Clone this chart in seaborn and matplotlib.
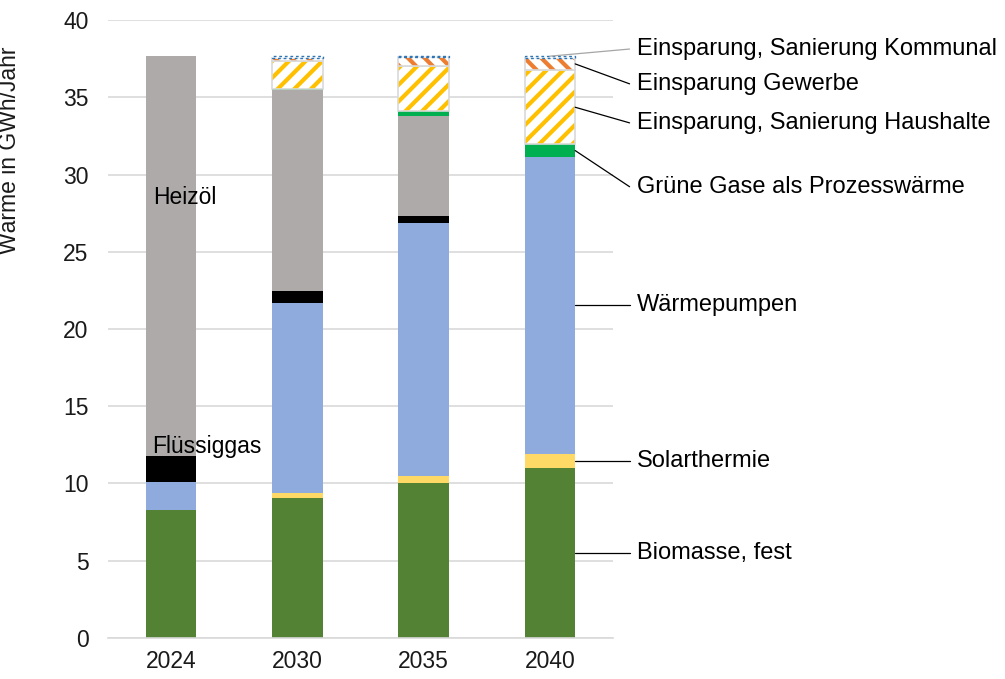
import numpy as np
import pandas as pd
import matplotlib
matplotlib.use("Agg")
import matplotlib.pyplot as plt
import seaborn as sns

# Daten (GWh/Jahr)
jahre = ["2024", "2030", "2035", "2040"]
biomasse = [8.3, 9.06, 10.03, 11.0]
solarthermie = [0.0, 0.31, 0.46, 0.92]
waermepumpen = [1.8, 12.31, 16.35, 19.22]
fluessiggas = [1.66, 0.78, 0.47, 0.0]
heizoel = [25.91, 13.0, 6.48, 0.0]
gruene_gase = [0.0, 0.1, 0.3, 0.82]
spar_haushalte = [0.0, 1.8, 2.95, 4.79]
spar_gewerbe = [0.0, 0.18, 0.56, 0.82]
spar_kommunal = [0.0, 0.12, 0.07, 0.09]

sns.set_theme(style="white")
plt.rcParams["font.family"] = ["Liberation Sans", "DejaVu Sans"]
plt.rcParams["hatch.linewidth"] = 3.0

fig = plt.figure(figsize=(10.05, 6.79), dpi=100)
ax = fig.add_axes([0.1075, 0.0604, 0.5025, 0.9101])

# Reihenfolge von unten nach oben
schichten = [
    ("Biomasse, fest", biomasse, "#548235", None, None),
    ("Solarthermie", solarthermie, "#FFD966", None, None),
    ("Wärmepumpen", waermepumpen, "#8FAADC", None, None),
    ("Flüssiggas", fluessiggas, "#000000", None, None),
    ("Heizöl", heizoel, "#AEAAAA", None, None),
    ("Grüne Gase als Prozesswärme", gruene_gase, "#00B050", None, None),
    ("Einsparung, Sanierung Haushalte", spar_haushalte, "white", "//", "#FFC000"),
    ("Einsparung Gewerbe", spar_gewerbe, "white", "\\\\", "#ED7D31"),
    ("Einsparung, Sanierung Kommunal", spar_kommunal, "white", None, None),
]

breite = 0.4
bottom = np.zeros(len(jahre))
mitten = {}
for name, werte, farbe, hatch, hfarbe in schichten:
    werte = np.array(werte)
    df = pd.DataFrame({"jahr": jahre, "wert": werte})
    pos = np.arange(len(jahre))
    da = werte > 0
    if hatch:
        sns.barplot(data=df, x="jahr", y="wert", order=jahre, ax=ax, width=breite,
                    color="white", bottom=bottom, hatch=hatch, edgecolor=hfarbe,
                    linewidth=0, saturation=1, errorbar=None)
        # helle Umrandung
        ax.bar(pos[da], werte[da], width=breite, bottom=bottom[da],
               facecolor="none", edgecolor="#D9D9D9", linewidth=1.2)
    elif hfarbe is None and farbe == "white":
        ax.bar(pos[da], werte[da], width=breite, bottom=bottom[da],
               facecolor="white", edgecolor="#2E75B6", linewidth=1.0,
               linestyle=(0, (2, 2)))
    else:
        sns.barplot(data=df, x="jahr", y="wert", order=jahre, ax=ax, width=breite,
                    color=farbe, bottom=bottom, linewidth=0,
                    saturation=1, errorbar=None)
    mitten[name] = bottom[-1] + werte[-1] / 2
    bottom = bottom + werte

gesamt = bottom

ax.set_ylim(0, 40)
ax.set_xlim(-0.5, 3.5)
ax.set_yticks(range(0, 41, 5))
ax.yaxis.grid(True, color="#D9D9D9", linewidth=1.2)
ax.set_axisbelow(True)
for s in ["left", "right", "top"]:
    ax.spines[s].set_visible(False)
ax.spines["bottom"].set_color("#D9D9D9")
ax.spines["bottom"].set_linewidth(1.2)
ax.tick_params(axis="both", length=0, labelsize=16.5, colors="#1a1a1a")
ax.tick_params(axis="y", pad=14)
ax.tick_params(axis="x", pad=9)
ax.set_xlabel("")
ax.set_ylabel("Wärme in GWh/Jahr", fontsize=16.5, color="#1a1a1a")
ax.yaxis.set_label_coords(-0.172, 0.79)

# Beschriftungen im Balken 2024
ax.text(-0.14, 28.5, "Heizöl", fontsize=16.5, va="center", ha="left", color="black")
ax.text(-0.15, 12.4, "Flüssiggas", fontsize=16.5, va="center", ha="left", color="black")

# Beschriftungen rechts mit Führungslinien
text_x = 637
etiketten = [
    ("Einsparung, Sanierung Kommunal", (3, gesamt[-1]), 49, "#A6A6A6"),
    ("Einsparung Gewerbe", (3 + breite / 2, mitten["Einsparung Gewerbe"]), 84, "black"),
    ("Einsparung, Sanierung Haushalte", (3 + breite / 2, mitten["Einsparung, Sanierung Haushalte"]), 123, "black"),
    ("Grüne Gase als Prozesswärme", (3 + breite / 2, mitten["Grüne Gase als Prozesswärme"]), 187, "black"),
    ("Wärmepumpen", (3 + breite / 2, mitten["Wärmepumpen"]), None, "black"),
    ("Solarthermie", (3 + breite / 2, mitten["Solarthermie"]), None, "black"),
    ("Biomasse, fest", (3 + breite / 2, mitten["Biomasse, fest"]), None, "black"),
]
for text, xy, ypix, lfarbe in etiketten:
    if ypix is None:
        ypix = 679 - ax.transData.transform(xy)[1]
    ax.annotate(text, xy=xy, xycoords="data",
                xytext=(text_x, 679 - ypix), textcoords="figure pixels",
                fontsize=17, va="center", ha="left", color="black",
                arrowprops=dict(arrowstyle="-", color=lfarbe, lw=0.9,
                                shrinkA=3, shrinkB=0, relpos=(0, 0.5),
                                connectionstyle="arc,angleA=180,angleB=0,armA=7,armB=0,rad=0"),
                annotation_clip=False)

fig.savefig("out.png", dpi=100)
